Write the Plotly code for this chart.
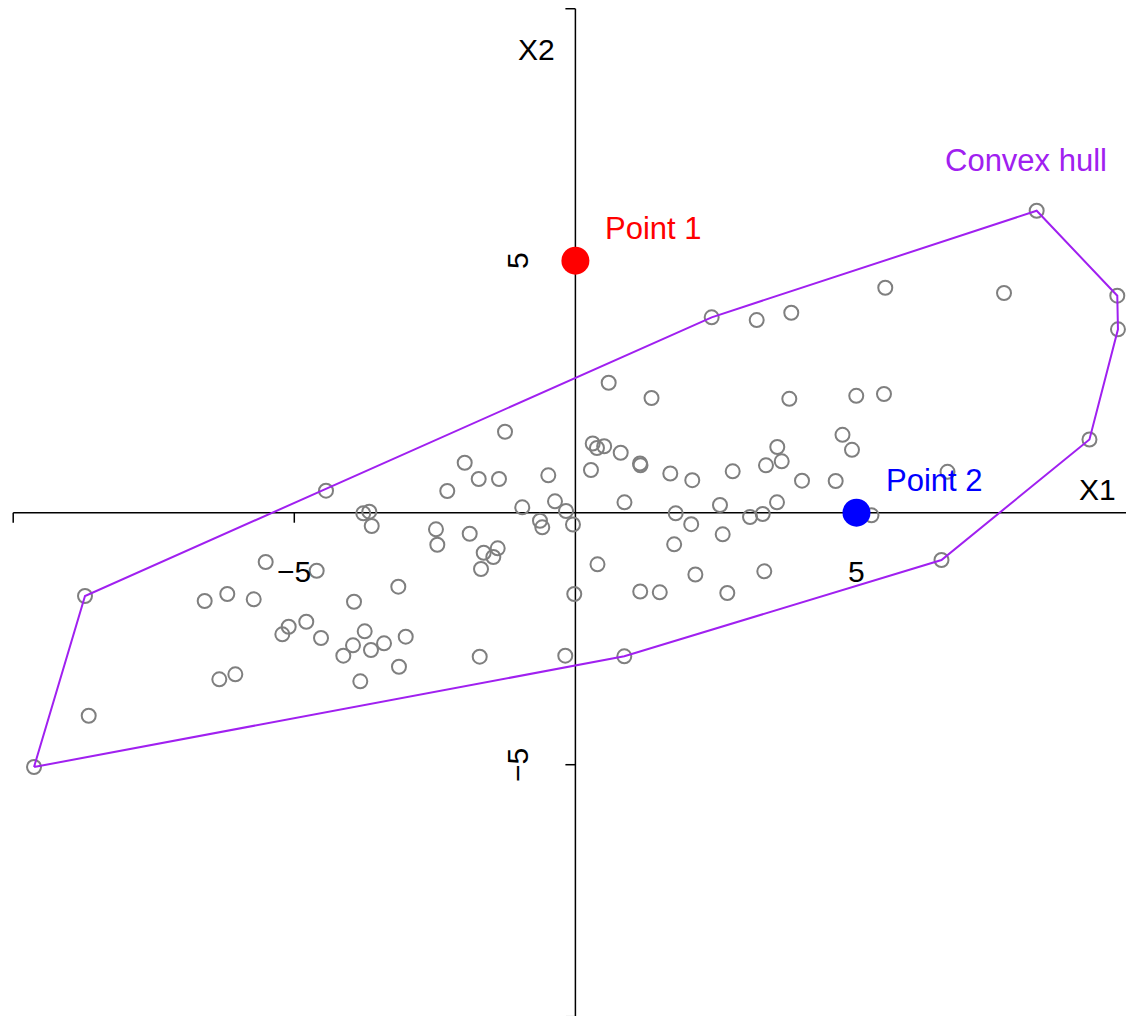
import plotly.graph_objects as go

# Sample points (X1, X2)
x1 = [-9.630, -8.723, -8.657, -6.594, -6.334, -6.192, -6.049, -5.722, -5.509, -5.213,
      -5.100, -4.787, -4.602, -4.525, -4.436, -4.128, -3.956, -3.938, -3.826, -3.773,
      -3.666, -3.623, -3.748, -3.636, -3.404, -3.150, -3.138, -3.018, -2.480, -2.456,
      -2.279, -1.969, -1.880, -1.720, -1.702, -1.679, -1.631, -1.460, -1.382, -1.359,
      -1.252, -0.945, -0.630, -0.589, -0.482, -0.363, -0.180, -0.167, -0.043, -0.020,
      0.277, 0.308, 0.384, 0.512, 0.393, 0.592, 0.806, 0.873, 0.870, 1.149,
      1.158, 1.153, 1.354, 1.501, 1.688, 1.757, 1.784, 2.060, 2.079, 2.134,
      2.424, 2.572, 2.620, 2.702, 2.798, 3.106, 3.225, 3.332, 3.360, 3.390,
      3.586, 3.591, 3.670, 3.805, 3.840, 4.031, 4.630, 4.751, 4.920, 4.996,
      5.267, 5.489, 5.512, 6.512, 6.619, 7.624, 8.205, 9.144, 9.639, 9.651]
x2 = [-5.046, -1.653, -4.028, -1.752, -3.306, -1.613, -3.206, -1.718, -0.978, -2.413,
      -2.262, -2.163, -1.151, -2.486, 0.437, -2.837, -2.631, -1.766, -3.345, -0.012,
      0.020, -0.264, -2.353, -2.724, -2.591, -1.468, -3.056, -2.460, -0.329, -0.635,
      0.431, 0.992, -0.417, 0.669, -2.857, -1.117, -0.794, -0.879, -0.706, 0.669,
      1.607, 0.107, -0.159, -0.290, 0.742, 0.226, -2.837, 0.034, -0.234, -1.613,
      0.847, 1.373, 1.284, 1.319, -1.024, 2.579, 1.190, 0.206, -2.849, 0.976,
      0.942, -1.563, 2.276, -1.579, 0.778, -0.627, -0.012, -0.228, 0.645, -1.226,
      3.877, 0.153, -0.429, -1.593, 0.821, -0.085, 3.823, -0.026, -1.163, 0.940,
      0.206, 1.304, 1.020, 2.260, 3.968, 0.635, 0.629, 1.546, 1.248, 2.319,
      -0.052, 2.355, 4.464, -0.938, 0.812, 4.359, 5.992, 1.452, 4.306, 3.639]

# Two highlighted query points
query_x = [0, 5]
query_y = [5, 0]
query_names = ["Point 1", "Point 2"]
query_colors = ["red", "blue"]

x_ticks = [-10, -5, 5]
y_ticks = [-10, -5, 5, 10]
x_tick_labels = {-5: "\u22125", 5: "5"}
y_tick_labels = {-5: "\u22125", 5: "5"}

HULL_COLOR = "#A020F0"
FONT = "Liberation Sans, Arial, sans-serif"


def convex_hull(px, py):
    """Monotone chain convex hull; returns closed vertex lists."""
    pts = sorted(set(zip(px, py)))

    def cross(o, a, b):
        return (a[0] - o[0]) * (b[1] - o[1]) - (a[1] - o[1]) * (b[0] - o[0])

    lower, upper = [], []
    for p in pts:
        while len(lower) >= 2 and cross(lower[-2], lower[-1], p) <= 0:
            lower.pop()
        lower.append(p)
    for p in reversed(pts):
        while len(upper) >= 2 and cross(upper[-2], upper[-1], p) <= 0:
            upper.pop()
        upper.append(p)
    hull = lower[:-1] + upper[:-1]
    hull.append(hull[0])
    return [p[0] for p in hull], [p[1] for p in hull]


hx, hy = convex_hull(x1, x2)

fig = go.Figure()

fig.add_trace(go.Scatter(
    x=x1, y=x2, mode="markers",
    marker=dict(symbol="circle-open", size=14, color="#7F7F7F",
                line=dict(width=2, color="#7F7F7F")),
    showlegend=False, hoverinfo="skip"))

fig.add_trace(go.Scatter(
    x=hx, y=hy, mode="lines",
    line=dict(color=HULL_COLOR, width=2),
    showlegend=False, hoverinfo="skip"))

fig.add_trace(go.Scatter(
    x=query_x, y=query_y, mode="markers",
    marker=dict(size=28, color=query_colors, line=dict(width=0)),
    showlegend=False, hoverinfo="skip"))

AXIS_LINE = dict(color="black", width=1.5)
shapes = []
# axes through the origin, drawn beneath the data
shapes.append(dict(type="line", xref="x", yref="y", x0=-10, x1=10, y0=0, y1=0,
                   line=AXIS_LINE, layer="below"))
shapes.append(dict(type="line", xref="x", yref="y", x0=0, x1=0, y0=-10, y1=10,
                   line=AXIS_LINE, layer="below"))
for t in x_ticks:
    shapes.append(dict(type="line", xref="x", yref="y", ysizemode="pixel",
                       yanchor=0, y0=0, y1=-10, x0=t, x1=t,
                       line=AXIS_LINE, layer="below"))
for t in y_ticks:
    shapes.append(dict(type="line", xref="x", yref="y", xsizemode="pixel",
                       xanchor=0, x0=0, x1=-10, y0=t, y1=t,
                       line=AXIS_LINE, layer="below"))

annotations = []
for t, lab in x_tick_labels.items():
    annotations.append(dict(x=t, y=0, text=lab, showarrow=False, yshift=-59,
                            xanchor="center", yanchor="middle",
                            font=dict(size=30, color="black", family=FONT)))
for t, lab in y_tick_labels.items():
    annotations.append(dict(x=0, y=t, text=lab, showarrow=False, xshift=-58,
                            textangle=-90, xanchor="center", yanchor="middle",
                            font=dict(size=30, color="black", family=FONT)))

annotations.append(dict(x=9.29, y=0.47, text="X1", showarrow=False,
                        font=dict(size=30, color="black", family=FONT)))
annotations.append(dict(x=-0.70, y=9.19, text="X2", showarrow=False,
                        font=dict(size=30, color="black", family=FONT)))

for qx, qy, name, col in zip(query_x, query_y, query_names, query_colors):
    annotations.append(dict(x=qx, y=qy, text=name, showarrow=False,
                            xanchor="left", yanchor="middle", xshift=28, yshift=32,
                            font=dict(size=31, color=col, family=FONT)))

annotations.append(dict(x=8.01, y=6.99, text="Convex hull", showarrow=False,
                        font=dict(size=31, color=HULL_COLOR, family=FONT)))

fig.update_layout(
    width=1126, height=1016, autosize=False,
    margin=dict(l=0, r=0, t=0, b=0),
    paper_bgcolor="white", plot_bgcolor="white",
    xaxis=dict(range=[-10.235, 9.794], visible=False, fixedrange=True),
    yaxis=dict(range=[-9.986, 10.173], visible=False, fixedrange=True),
    shapes=shapes, annotations=annotations,
)

fig.write_html("out.html", config={"displayModeBar": False})
